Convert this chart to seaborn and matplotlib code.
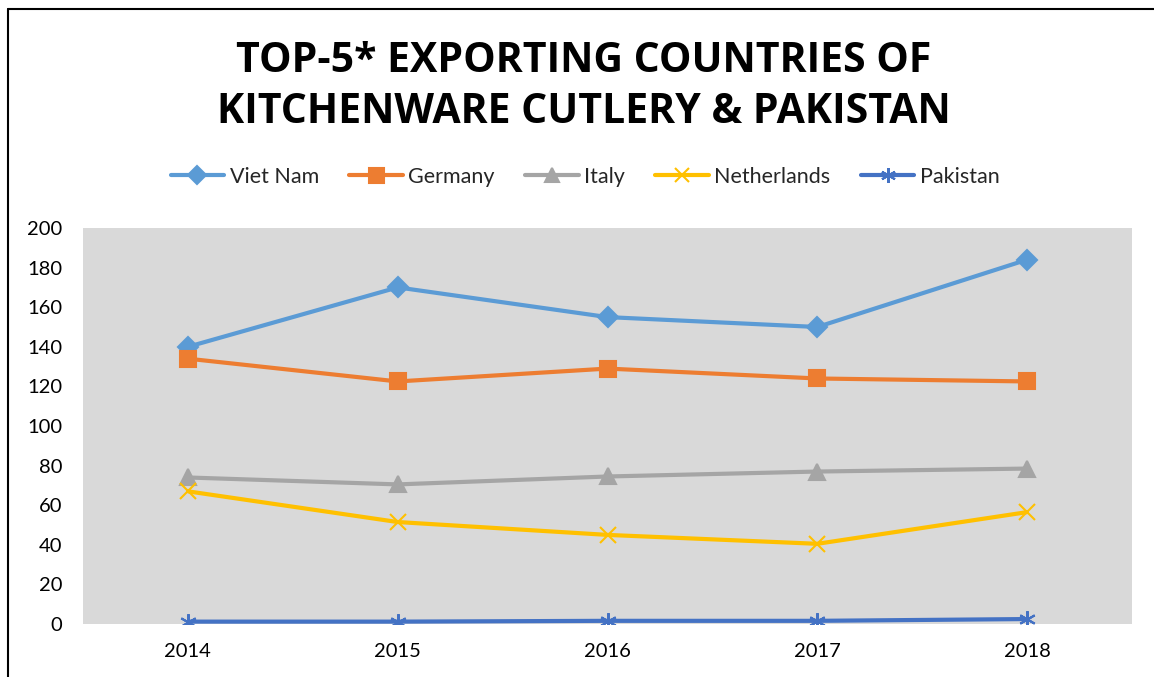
import matplotlib
matplotlib.use("Agg")
import matplotlib.pyplot as plt
import seaborn as sns
import pandas as pd
from matplotlib.lines import Line2D

years = ["2014", "2015", "2016", "2017", "2018"]
viet_nam = [140, 170, 155, 150, 184]
germany = [134, 122.5, 129, 124, 122.5]
italy = [74, 70.5, 74.5, 77, 78.5]
netherlands = [67, 51.5, 45, 40.5, 56.5]
pakistan = [1.2, 1.2, 1.6, 1.6, 2.5]

series_names = ["Viet Nam", "Germany", "Italy", "Netherlands", "Pakistan"]
series_values = [viet_nam, germany, italy, netherlands, pakistan]
colors = ["#5B9BD5", "#ED7D31", "#A5A5A5", "#FFC000", "#4472C4"]
markers = ["D", "s", "^", "x", (6, 2, 0)]
msizes = [10, 12, 11, 11, 12]

sns.set_theme(style="white")
plt.rcParams['font.family'] = ['Lato', 'DejaVu Sans']

fig = plt.figure(figsize=(11.54, 6.77), dpi=100)
ax = fig.add_axes([83/1154, 1-624/677, (1132-83)/1154, (624-228)/677])
ax.set_facecolor("#D9D9D9")

for name, vals, c, m, ms in zip(series_names, series_values, colors, markers, msizes):
    d = pd.DataFrame({"Year": years, "Value": vals})
    sns.lineplot(data=d, x="Year", y="Value", color=c, marker=m, markersize=ms,
                 markeredgecolor=c, markerfacecolor=c, markeredgewidth=1.5,
                 linewidth=3, ax=ax, label=name, legend=False, sort=False)

for line in ax.lines:
    line.set_solid_capstyle('butt')

ax.set_xlim(-0.5, 4.5)
ax.set_ylim(0, 200)
ax.set_yticks(range(0, 201, 20))
ax.set_xlabel("")
ax.set_ylabel("")
for s in ax.spines.values():
    s.set_visible(False)
ax.tick_params(axis='y', length=0, pad=15, labelsize=14.5, labelcolor='black')
ax.tick_params(axis='x', length=0, pad=14, labelsize=14.5, labelcolor='black')
ax.grid(False)

handles = []
for name, c, m, ms in zip(series_names, colors, markers, msizes):
    handles.append(Line2D([0], [0], color=c, marker=m, markersize=ms*0.9,
                          markeredgecolor=c, markerfacecolor=c, markeredgewidth=1.5,
                          linewidth=3, label=name))
fig.legend(handles=handles, loc='center', bbox_to_anchor=(0.507, 1-177/677),
           ncol=5, frameon=False, fontsize=15.5, handlelength=2.5,
           columnspacing=1.4, handletextpad=0.25)

fig.text(0.506, 1-87/677, "TOP-5* EXPORTING COUNTRIES OF\nKITCHENWARE CUTLERY & PAKISTAN",
         ha='center', va='center', fontsize=29.5, fontweight='bold',
         family=['Open Sans', 'DejaVu Sans'],
         linespacing=1.35, color='black')

# chart frame (left and top edges)
fig.add_artist(Line2D([8/1154, 8/1154], [0, 1-9/677], transform=fig.transFigure,
                      color='black', linewidth=1.5))
fig.add_artist(Line2D([8/1154, 1], [1-9/677, 1-9/677], transform=fig.transFigure,
                      color='black', linewidth=1.5))

fig.savefig("out.png", dpi=100)
